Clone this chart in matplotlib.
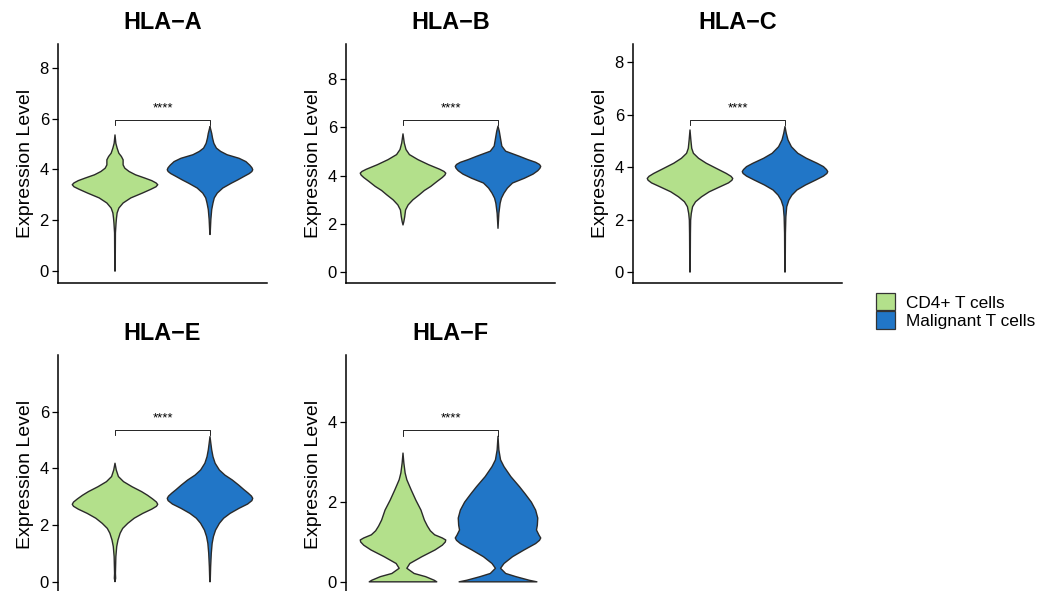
import numpy as np
import matplotlib
matplotlib.use("Agg")
import matplotlib.pyplot as plt
from matplotlib.patches import Patch

plt.rcParams['font.family'] = ['Liberation Sans', 'DejaVu Sans']

genes = ["HLA\u2212A", "HLA\u2212B", "HLA\u2212C", "HLA\u2212E", "HLA\u2212F"]
groups = ["CD4+ T cells", "Malignant T cells"]
colors = ["#B3E08B", "#2176C7"]
signif = ["****", "****", "****", "****", "****"]

# violin outlines: (expression, relative half-width) from bottom to top
a_cd4 = [(0.0, 0.005), (1.50, 0.01), (1.90, 0.025), (2.09, 0.035), (2.29, 0.05),
         (2.48, 0.09), (2.68, 0.19), (2.88, 0.37), (3.07, 0.64), (3.22, 0.84),
         (3.32, 0.96), (3.40, 1.0), (3.47, 0.96), (3.56, 0.86), (3.66, 0.70),
         (3.79, 0.48), (3.92, 0.33), (4.05, 0.23), (4.18, 0.19), (4.38, 0.19),
         (4.51, 0.15), (4.64, 0.09), (4.84, 0.05), (5.03, 0.02), (5.36, 0.0)]
a_mal = [(1.44, 0.0), (1.50, 0.005), (2.03, 0.02), (2.42, 0.04), (2.68, 0.07),
         (2.88, 0.10), (3.07, 0.17), (3.27, 0.30), (3.46, 0.50), (3.59, 0.65),
         (3.73, 0.80), (3.84, 0.92), (3.92, 0.98), (3.99, 1.0), (4.07, 0.98),
         (4.17, 0.93), (4.31, 0.84), (4.44, 0.68), (4.58, 0.40), (4.71, 0.25),
         (4.84, 0.15), (5.03, 0.09), (5.23, 0.06), (5.42, 0.04), (5.62, 0.01),
         (5.69, 0.0)]
b_cd4 = [(1.95, 0.0), (2.09, 0.02), (2.29, 0.04), (2.57, 0.06), (2.78, 0.12),
         (2.99, 0.23), (3.20, 0.38), (3.38, 0.50), (3.55, 0.65), (3.76, 0.80),
         (3.92, 0.92), (4.02, 0.98), (4.10, 1.0), (4.17, 0.96), (4.26, 0.86),
         (4.45, 0.60), (4.66, 0.35), (4.87, 0.15), (5.08, 0.07), (5.35, 0.03),
         (5.73, 0.0)]
b_mal = [(1.81, 0.0), (2.43, 0.02), (2.85, 0.05), (3.06, 0.08), (3.27, 0.14),
         (3.48, 0.22), (3.69, 0.34), (3.89, 0.62), (4.06, 0.82), (4.20, 0.93),
         (4.30, 0.98), (4.38, 1.0), (4.46, 0.97), (4.55, 0.88), (4.66, 0.70),
         (4.80, 0.50), (5.01, 0.18), (5.22, 0.09), (5.42, 0.07), (5.63, 0.05),
         (5.84, 0.03), (6.05, 0.0)]
c_cd4 = [(0.0, 0.005), (1.47, 0.01), (1.98, 0.015), (2.23, 0.03), (2.49, 0.06),
         (2.68, 0.13), (2.87, 0.27), (3.06, 0.45), (3.25, 0.70), (3.40, 0.90),
         (3.50, 0.98), (3.57, 1.0), (3.65, 0.96), (3.76, 0.85), (3.95, 0.62),
         (4.15, 0.38), (4.34, 0.20), (4.53, 0.08), (4.72, 0.04), (5.04, 0.02),
         (5.42, 0.0)]
c_mal = [(0.0, 0.005), (1.47, 0.01), (2.10, 0.02), (2.49, 0.04), (2.74, 0.09),
         (2.93, 0.16), (3.13, 0.28), (3.32, 0.48), (3.51, 0.72), (3.66, 0.90),
         (3.76, 0.98), (3.83, 1.0), (3.91, 0.97), (4.02, 0.90), (4.15, 0.75),
         (4.34, 0.50), (4.53, 0.30), (4.78, 0.15), (5.04, 0.07), (5.29, 0.03),
         (5.55, 0.0)]
e_cd4 = [(0.0, 0.0), (0.12, 0.015), (0.29, 0.01), (0.88, 0.02), (1.24, 0.04),
         (1.47, 0.07), (1.71, 0.12), (1.88, 0.18), (2.06, 0.30), (2.24, 0.45),
         (2.41, 0.65), (2.56, 0.86), (2.66, 0.97), (2.73, 1.0), (2.81, 0.97),
         (2.92, 0.88), (3.05, 0.76), (3.18, 0.62), (3.35, 0.40), (3.53, 0.20),
         (3.71, 0.08), (3.94, 0.03), (4.18, 0.0)]
e_mal = [(0.0, 0.005), (0.53, 0.015), (1.00, 0.03), (1.35, 0.05), (1.59, 0.08),
         (1.82, 0.13), (2.06, 0.22), (2.24, 0.32), (2.41, 0.47), (2.59, 0.68),
         (2.74, 0.88), (2.86, 0.98), (2.94, 1.0), (3.02, 0.97), (3.13, 0.89),
         (3.24, 0.80), (3.41, 0.67), (3.59, 0.52), (3.76, 0.35), (3.94, 0.22),
         (4.18, 0.12), (4.41, 0.07), (4.65, 0.04), (4.88, 0.02), (5.12, 0.0)]
f_cd4 = [(0.0, 0.79), (0.04, 0.73), (0.13, 0.53), (0.21, 0.26), (0.34, 0.09),
         (0.46, 0.16), (0.63, 0.44), (0.80, 0.75), (0.92, 0.92), (1.00, 0.99),
         (1.05, 1.0), (1.10, 0.92), (1.18, 0.74), (1.28, 0.64), (1.40, 0.57),
         (1.55, 0.50), (1.80, 0.42), (2.05, 0.30), (2.31, 0.19), (2.56, 0.09),
         (2.73, 0.05), (2.98, 0.02), (3.23, 0.0)]
f_mal = [(0.0, 0.91), (0.04, 0.73), (0.13, 0.42), (0.21, 0.18), (0.34, 0.06),
         (0.46, 0.14), (0.63, 0.34), (0.80, 0.61), (0.96, 0.88), (1.04, 0.97),
         (1.10, 1.0), (1.17, 0.96), (1.30, 0.90), (1.42, 0.92), (1.60, 0.93),
         (1.80, 0.88), (2.00, 0.78), (2.20, 0.64), (2.39, 0.50), (2.64, 0.30),
         (2.89, 0.14), (3.06, 0.06), (3.31, 0.02), (3.65, 0.0)]
profiles = [(a_cd4, a_mal), (b_cd4, b_mal), (c_cd4, c_mal),
            (e_cd4, e_mal), (f_cd4, f_mal)]

# bracket heights and y ranges per gene
bracket_y = [5.95, 6.30, 5.80, 5.34, 3.80]
bracket_drop = [0.20, 0.21, 0.19, 0.18, 0.13]
ylims = [(-0.47, 8.94), (-0.46, 9.46), (-0.42, 8.70), (-0.40, 8.0), (-0.28, 5.69)]
yticks = [[0, 2, 4, 6, 8], [0, 2, 4, 6, 8], [0, 2, 4, 6, 8], [0, 2, 4, 6], [0, 2, 4]]

W, H = 1039, 591
fig = plt.figure(figsize=(W / 100, H / 100), dpi=100)

# axes boxes in pixels: left, right, top, bottom
boxes = [(58, 267, 44, 283), (346, 555, 44, 283), (633, 842, 44, 283),
         (58, 267, 355, 593), (346, 555, 355, 593)]

half = 0.45
for i, gene in enumerate(genes):
    l, r, t, b = boxes[i]
    ax = fig.add_axes([l / W, 1 - b / H, (r - l) / W, (b - t) / H])
    for k, prof in enumerate(profiles[i]):
        y = np.array([p[0] for p in prof])
        w = np.array([p[1] for p in prof]) * half
        x0 = k + 1
        xs = np.concatenate([x0 - w, (x0 + w)[::-1]])
        ys = np.concatenate([y, y[::-1]])
        ax.fill(xs, ys, facecolor=colors[k], edgecolor="#2a2a2a", lw=1.0,
                joinstyle="round", zorder=2)
    by = bracket_y[i]
    dy = bracket_drop[i]
    ax.plot([1, 1, 2, 2], [by - dy, by, by, by - dy], color="black", lw=0.6)
    ax.annotate(signif[i], xy=(1.5, by), xytext=(0, 4), textcoords="offset points",
                ha="center", va="bottom", fontsize=9.5)
    ax.set_xlim(0.4, 2.6)
    ax.set_ylim(*ylims[i])
    ax.set_yticks(yticks[i])
    ax.set_xticks([])
    for s in ["top", "right"]:
        ax.spines[s].set_visible(False)
    for s in ["left", "bottom"]:
        ax.spines[s].set_linewidth(1.1)
    ax.tick_params(axis="y", length=4.5, width=0.9, labelsize=12, pad=2)
    ax.set_ylabel("Expression Level", fontsize=14, labelpad=4)
    ax.set_title(gene, fontsize=16.8, fontweight="bold", pad=11)

handles = [Patch(facecolor=c, edgecolor="#333333", lw=0.9) for c in colors]
fig.legend(handles, groups, loc="center left", bbox_to_anchor=(876 / W, 1 - 311 / H),
           frameon=False, fontsize=12.4, handlelength=1.12, handleheight=1.15,
           labelspacing=0.05, handletextpad=0.65, borderpad=0, borderaxespad=0)

fig.savefig("out.png", dpi=100)
